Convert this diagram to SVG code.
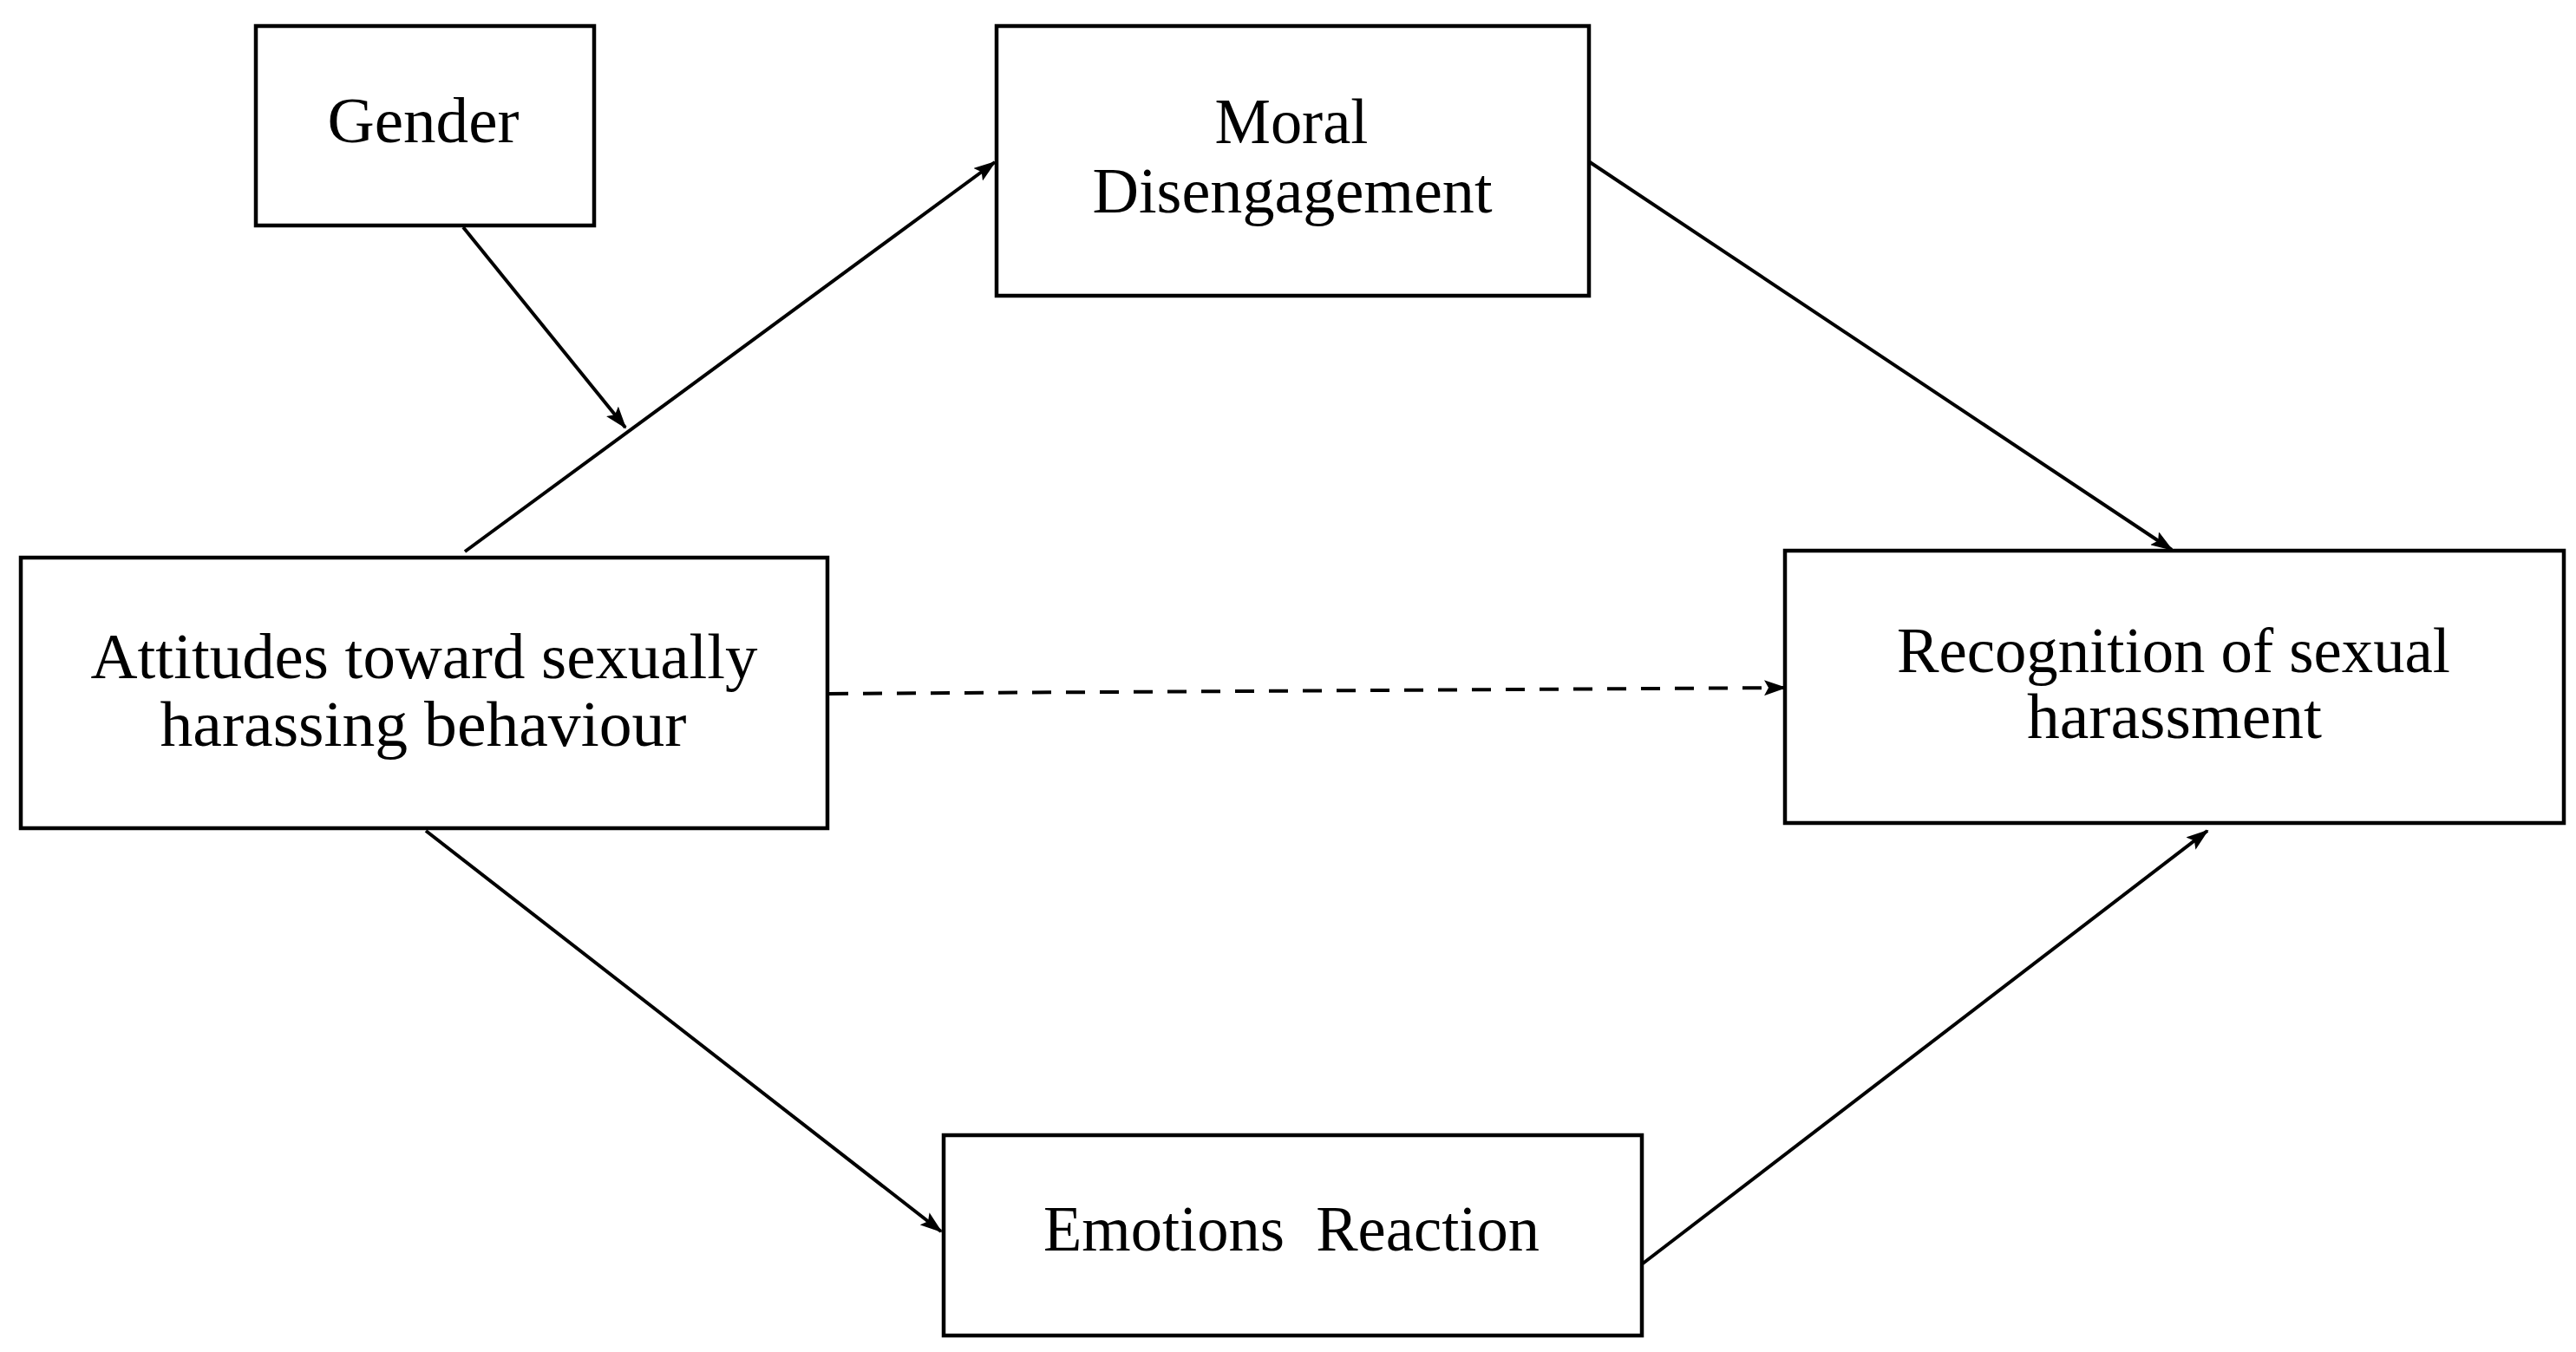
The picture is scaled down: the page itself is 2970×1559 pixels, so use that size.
<svg xmlns="http://www.w3.org/2000/svg" width="2970" height="1559" viewBox="0 0 2970 1559">
<style>
.box{fill:#fff;stroke:#000;stroke-width:4.5}
.lbl{font-family:"Liberation Serif","Times New Roman",serif;font-size:75px;fill:#000;text-anchor:middle}
.con{fill:none;stroke:#000;stroke-width:4}
.dash{stroke-dasharray:22 17}
</style>
<defs>
<marker id="ah" markerUnits="userSpaceOnUse" markerWidth="26" markerHeight="18" refX="24" refY="9" orient="auto" viewBox="0 0 26 18">
<path d="M0,0 L26,9 L0,18 L5,9 z" fill="#000"/>
</marker>
</defs>
<rect width="2970" height="1559" fill="#fff"/>
<g id="connectors">
<line class="con" x1="534" y1="262" x2="721" y2="493" marker-end="url(#ah)"/>
<line class="con" x1="536" y1="636" x2="1147" y2="187" marker-end="url(#ah)"/>
<line class="con" x1="1833" y1="187" x2="2504" y2="634" marker-end="url(#ah)"/>
<line class="con dash" x1="956" y1="800" x2="2058" y2="793" marker-end="url(#ah)"/>
<line class="con" x1="491" y1="958" x2="1085" y2="1420" marker-end="url(#ah)"/>
<line class="con" x1="1894" y1="1457" x2="2545" y2="958" marker-end="url(#ah)"/>
</g>
<g id="gender">
<rect class="box" x="295" y="30" width="390" height="230"/>
<text class="lbl" x="488" y="164" textLength="221" lengthAdjust="spacingAndGlyphs">Gender</text>
</g>
<g id="moral">
<rect class="box" x="1149" y="30" width="683" height="311"/>
<text class="lbl" x="1489" y="165" textLength="177" lengthAdjust="spacingAndGlyphs">Moral</text>
<text class="lbl" x="1490" y="245" textLength="461" lengthAdjust="spacingAndGlyphs">Disengagement</text>
</g>
<g id="attitudes">
<rect class="box" x="24" y="643" width="930" height="312"/>
<text class="lbl" x="489" y="782" textLength="769" lengthAdjust="spacingAndGlyphs">Attitudes toward sexually</text>
<text class="lbl" x="488" y="860" textLength="607" lengthAdjust="spacingAndGlyphs">harassing behaviour</text>
</g>
<g id="recognition">
<rect class="box" x="2058" y="635" width="898" height="314"/>
<text class="lbl" x="2506" y="775" textLength="638" lengthAdjust="spacingAndGlyphs">Recognition of sexual</text>
<text class="lbl" x="2507" y="851" textLength="340" lengthAdjust="spacingAndGlyphs">harassment</text>
</g>
<g id="emotions">
<rect class="box" x="1088" y="1309" width="805" height="231"/>
<text class="lbl" x="1489" y="1442" textLength="572" lengthAdjust="spacingAndGlyphs" xml:space="preserve">Emotions  Reaction</text>
</g>
</svg>
